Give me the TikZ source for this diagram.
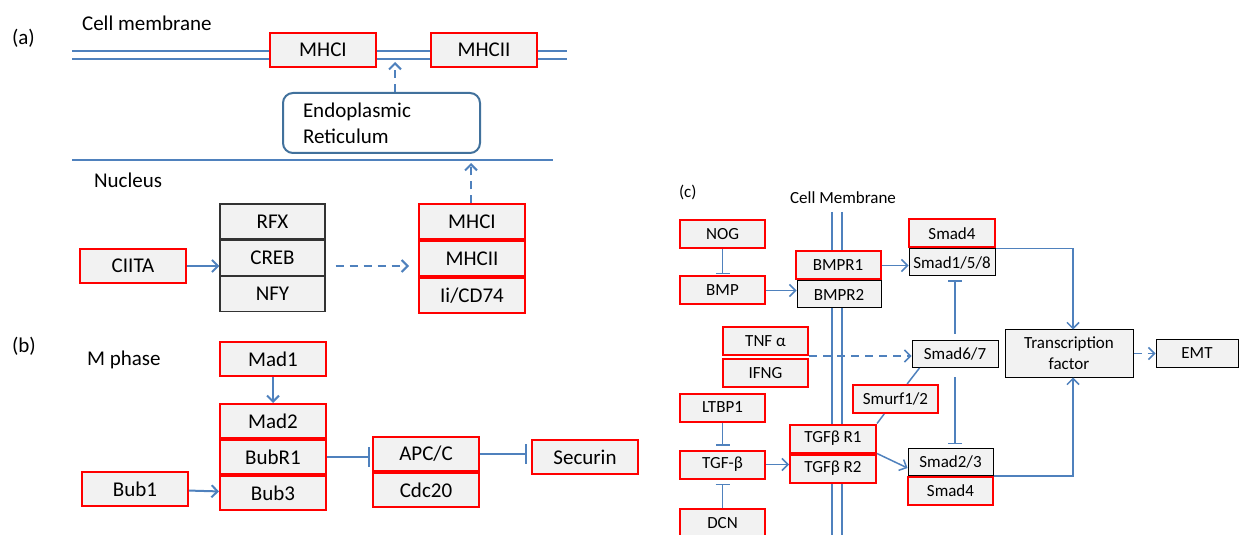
\documentclass[tikz,border=0pt]{standalone}
\usepackage{fontspec}
\setmainfont{Carlito}
\usetikzlibrary{positioning,arrows.meta,calc}
\definecolor{lineblue}{RGB}{79,129,189}
\definecolor{erblue}{RGB}{65,113,156}
\definecolor{boxgray}{RGB}{242,242,242}

\begin{document}
\begin{tikzpicture}[x=0.5pt,y=-0.5pt,
		bigfont/.style={font=\fontsize{10.5}{13}\selectfont},
		smallfont/.style={font=\fontsize{8.5}{10.5}\selectfont},
		redbox/.style={bigfont,draw=red,line width=1pt,fill=boxgray,minimum width=53pt,minimum height=17pt,inner sep=0pt},
		blkbox/.style={bigfont,draw=black!80,line width=0.6pt,fill=boxgray,minimum width=52.5pt,minimum height=17.5pt,inner sep=0pt},
		redc/.style={smallfont,draw=red,line width=1pt,fill=boxgray,minimum width=42.5pt,minimum height=14pt,inner sep=0pt},
		blkc/.style={smallfont,draw=black,line width=0.5pt,fill=boxgray,minimum width=43pt,minimum height=13.5pt,inner sep=0pt},
		act/.style={draw=lineblue,line width=1pt,-{Straight Barb[length=3pt,width=6pt]}},
		dact/.style={act,dash pattern=on 4pt off 3pt},
		inh/.style={draw=lineblue,line width=1pt,-{Bar[width=10pt]}},
		actc/.style={act,line width=0.75pt},
		dactc/.style={dact,line width=0.75pt},
		inhc/.style={draw=lineblue,line width=0.75pt,-{Bar[width=7pt]}},
		membr/.style={draw=lineblue,line width=1pt}]
	\useasboundingbox (0,0) rectangle (1239,535);

	% (a) membranes
	\draw[membr] (72,51) -- (567,51);
	\draw[membr] (72,59) -- (567,59);
	\draw[membr] (72,160) -- (553,160);
	\node[bigfont,anchor=west] (tA) at (5,38) {(a)};
	\node[bigfont,anchor=west] (cm) at (75,23) {Cell membrane};
	\node[bigfont,anchor=west] (nuc) at (87,180) {Nucleus};
	\node[redbox] (mhcI) at (323,50) {MHCI};
	\node[redbox] (mhcII) at (484,50) {MHCII};
	\node[bigfont,draw=erblue,line width=1pt,rounded corners=5pt,fill=white,text width=78.5pt,inner xsep=10pt,minimum height=30pt,align=left] (er) at (381.5,123) {Endoplasmic\\Reticulum};
	\coordinate (toMem) at (395,62);
	\coordinate (toNuc) at (471,163);
	\draw[dact] (er.north -| toMem) -- (toMem);

	% (a) nucleus
	\node[blkbox] (rfx) at (272.5,221.5) {RFX};
	\node[blkbox,below=0pt of rfx] (creb) {CREB};
	\node[blkbox,below=0pt of creb] (nfy) {NFY};
	\node[redbox] (ciita) at (133,266) {CIITA};
	\node[redbox,minimum height=17.5pt] (mhcIn) at (472,222) {MHCI};
	\node[redbox,minimum height=17.5pt,below=0pt of mhcIn] (mhcIIn) {MHCII};
	\node[redbox,minimum height=17.5pt,below=0pt of mhcIIn] (ii) {Ii/CD74};
	\draw[act] (ciita.east) -- (creb.west |- ciita.east);
	\draw[dact] ([xshift=5pt]creb.east |- ciita.east) -- ([xshift=-4.5pt]mhcIIn.west |- ciita.east);
	\draw[dact] (mhcIn.north -| toNuc) -- (toNuc);

	% (b)
	\node[bigfont,anchor=west] (tB) at (5,346) {(b)};
	\node[bigfont,anchor=west] (mph) at (80,360) {M phase};
	\node[redbox] (mad1) at (273,359) {Mad1};
	\node[redbox] (mad2) at (273,421) {Mad2};
	\node[redbox,below=0pt of mad2] (bubr1) {BubR1};
	\node[redbox,below=0pt of bubr1] (bub3) {Bub3};
	\node[redbox] (bub1) at (135,489) {Bub1};
	\node[redbox] (apc) at (426,454) {APC/C};
	\node[redbox,below=0pt of apc] (cdc20) {Cdc20};
	\node[redbox] (securin) at (585,457) {Securin};
	\draw[act] (mad1) -- (mad2);
	\draw[act] (bub1) -- (bub3);
	\draw[inh,shorten >=1pt] (bubr1.east) -- (apc.west |- bubr1.east);
	\draw[inh,shorten >=2pt] (apc.east) -- (securin.west |- apc.east);

	% (c)
	\draw[membr] (832,212) -- (832,540);
	\draw[membr] (842,212) -- (842,540);
	\node[smallfont,anchor=west] (tC) at (672,192) {(c)};
	\node[smallfont] (cmc) at (843,198) {Cell Membrane};
	\node[redc] (nog) at (722.5,234) {NOG};
	\node[redc] (bmp) at (722.5,290.5) {BMP};
	\node[redc] (bmpr1) at (838,265.5) {BMPR1};
	\node[blkc,minimum width=42pt,below=0pt of bmpr1,xshift=0.5pt] (bmpr2) {BMPR2};
	\node[redc,minimum width=43pt] (smad4a) at (952,233.5) {Smad4};
	\node[blkc,below=0pt of smad4a] (smad158) {Smad1/5/8};
	\node[redc] (tnf) at (765.5,341) {TNF α};
	\node[redc,below=1pt of tnf] (ifng) {IFNG};
	\node[blkc] (smad67) at (955,354) {Smad6/7};
	\node[blkc,minimum width=64pt,minimum height=23.5pt,align=center] (tf) at (1069,353.5) {Transcription\\factor};
	\node[blkc,minimum width=41pt] (emt) at (1197,353.5) {EMT};
	\node[redc] (smurf) at (895.5,399) {Smurf1/2};
	\node[redc] (ltbp) at (722.5,407.5) {LTBP1};
	\node[redc] (tgfb) at (722.5,464.5) {TGF-β};
	\node[redc] (dcn) at (722.5,523) {DCN};
	\node[redc,minimum width=43pt] (tgfr1) at (833,438.5) {TGFβ R1};
	\node[redc,minimum width=43pt,below=0pt of tgfr1] (tgfr2) {TGFβ R2};
	\node[blkc,minimum width=42.5pt] (smad23) at (950.5,462) {Smad2/3};
	\node[redc,below=0pt of smad23] (smad4b) {Smad4};

	\draw[inhc,shorten >=0.5pt] (nog) -- (bmp);
	\draw[actc] (bmp.east) -- (bmpr2.west |- bmp.east);
	\draw[actc] (bmpr1.east) -- (smad158.west |- bmpr1.east);
	\draw[actc] (smad4a.south east) -| ([xshift=2pt]tf.north);
	\draw[inhc,shorten <=3pt,shorten >=2pt] (smad67.north) -- (smad67.north |- smad158.south);
	\draw[inhc,shorten <=4.5pt,shorten >=2pt] (smad67.south) -- (smad67.south |- smad23.north);
	\draw[dactc] (tnf.south east) -- (tnf.south east -| smad67.west);
	\draw[dactc] (tf.east) -- (emt.west);
	\draw[lineblue,line width=0.75pt] (tgfr1.north east) -- (smurf);
	\draw[lineblue,line width=0.75pt] (smurf) -- ([xshift=4pt]smad67.south west);
	\draw[inhc,shorten >=2pt] (ltbp) -- (tgfb);
	\draw[inhc,shorten >=2pt] (dcn) -- (tgfb);
	\draw[actc] (tgfb.east) -- (tgfr2.west |- tgfb.east);
	\draw[actc] (tgfr1.south east) -- ([yshift=-3pt]smad23.west);
	\draw[actc] (smad23.south east) -| ([xshift=2pt]tf.south);
\end{tikzpicture}
\end{document}
